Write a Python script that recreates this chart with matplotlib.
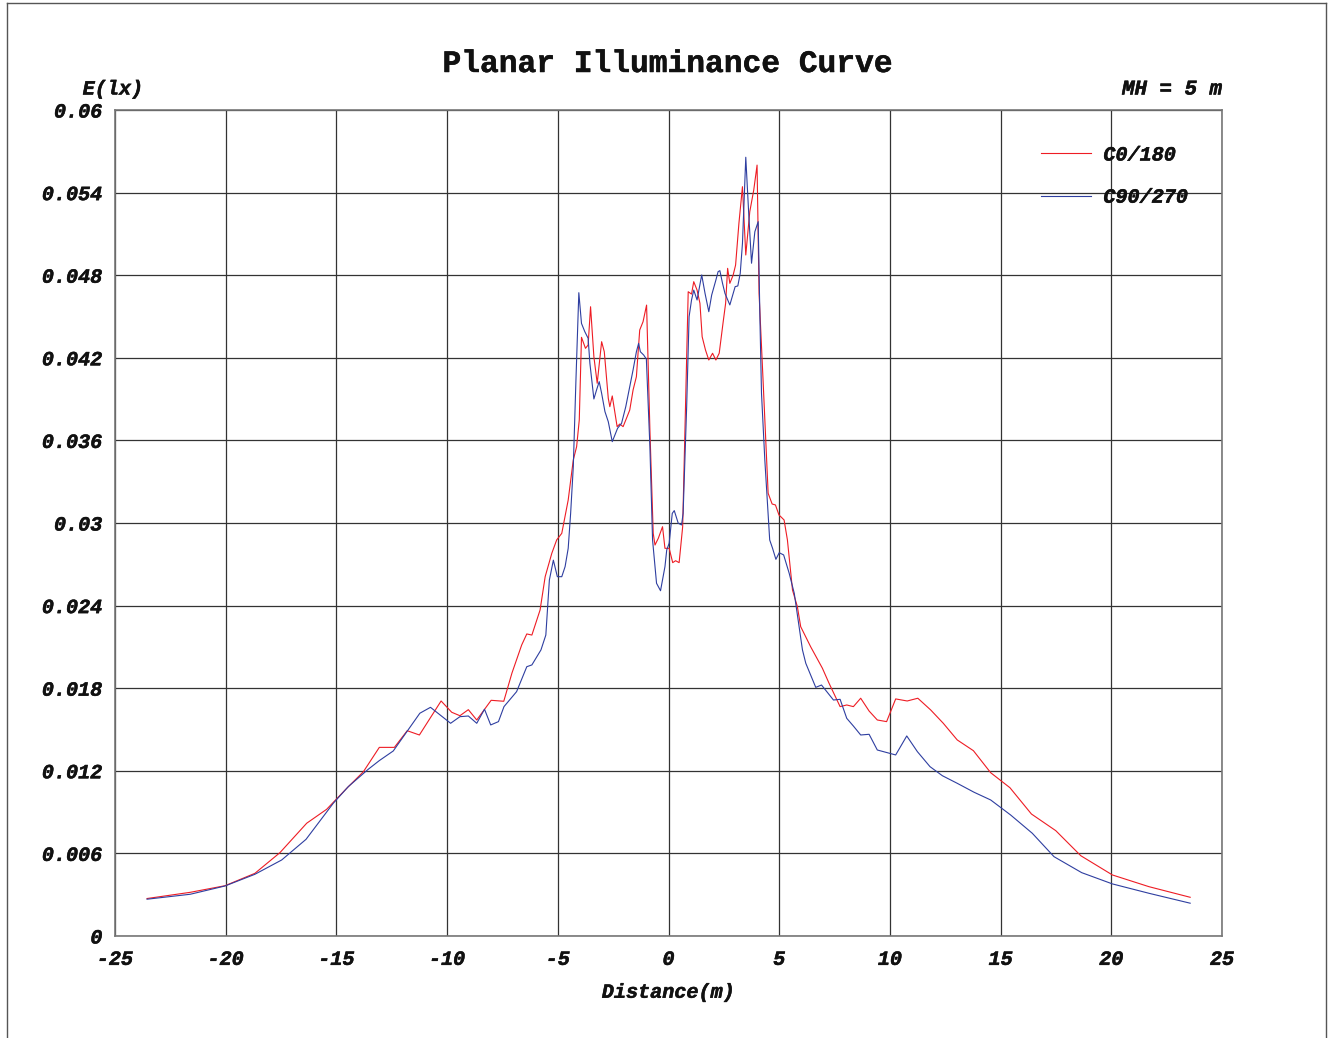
import matplotlib
matplotlib.use("Agg")
import matplotlib.pyplot as plt
import matplotlib.patheffects as pe
import numpy as np

# C0/180 curve (red)
c0_x = [-23.55, -21.6, -20.03, -18.68, -17.55, -16.34, -15.44, -14.53, -13.78, -13.06,
        -12.38, -11.8, -11.25, -10.27, -9.79, -9.42, -9.04, -8.66, -8.01, -7.44,
        -7.07, -6.63, -6.4, -6.17, -5.8, -5.57, -5.27, -5.05, -4.82, -4.53,
        -4.3, -4.15, -4.03, -3.93, -3.75, -3.63, -3.52, -3.37, -3.22, -3.02,
        -2.9, -2.72, -2.65, -2.54, -2.32, -2.2, -2.05, -1.87, -1.75, -1.6,
        -1.45, -1.3, -1.15, -0.99, -0.84, -0.69, -0.61, -0.46, -0.27, -0.16,
        0.03, 0.19, 0.32, 0.48, 0.64, 0.89, 1.04, 1.14, 1.29, 1.42,
        1.52, 1.67, 1.82, 1.99, 2.14, 2.29, 2.47, 2.58, 2.67, 2.77,
        2.92, 3.03, 3.18, 3.34, 3.49, 3.67, 3.85, 4.0, 4.09, 4.27,
        4.5, 4.68, 4.83, 4.99, 5.07, 5.22, 5.37, 5.6, 5.82, 5.97,
        6.42, 6.95, 7.25, 7.75, 8.05, 8.35, 8.68, 9.06, 9.43, 9.85,
        10.26, 10.78, 11.26, 11.84, 12.41, 13.04, 13.77, 14.55, 15.42, 16.39,
        17.49, 18.62, 20.05, 21.7, 23.56]
c0_e = [0.00272, 0.00317, 0.00365, 0.00455, 0.00605, 0.00819, 0.0092, 0.01073, 0.01193, 0.0137,
        0.0137, 0.01491, 0.0146, 0.01707, 0.01625, 0.016, 0.01644, 0.01569, 0.01712, 0.01705,
        0.0191, 0.02114, 0.02194, 0.02186, 0.02368, 0.0261, 0.0278, 0.02877, 0.02925, 0.03167,
        0.03458, 0.03554, 0.03748, 0.04349, 0.04269, 0.04293, 0.04571, 0.04208, 0.04015, 0.04317,
        0.04244, 0.03906, 0.03845, 0.03923, 0.037, 0.03719, 0.037, 0.03772, 0.03821, 0.03966,
        0.04063, 0.04402, 0.04462, 0.04583, 0.03676, 0.02925, 0.0284, 0.02889, 0.02973, 0.02816,
        0.02816, 0.02712, 0.02726, 0.02712, 0.02973, 0.0468, 0.04663, 0.04753, 0.04692, 0.04596,
        0.04353, 0.04257, 0.04184, 0.04233, 0.04184, 0.04233, 0.04462, 0.04596, 0.0485, 0.04741,
        0.04801, 0.04874, 0.05177, 0.05443, 0.04947, 0.05261, 0.05419, 0.056, 0.04668, 0.04039,
        0.03216, 0.03138, 0.03131, 0.03058, 0.03046, 0.03022, 0.02877, 0.02513, 0.02392, 0.02247,
        0.02101, 0.01945, 0.01836, 0.01666, 0.01678, 0.01666, 0.01727, 0.01634, 0.01569, 0.01557,
        0.01722, 0.01707, 0.01727, 0.01642, 0.01545, 0.01424, 0.01346, 0.01186, 0.01077, 0.00886,
        0.00765, 0.00583, 0.00443, 0.00358, 0.00281]

# C90/270 curve (blue)
c90_x = [-23.55, -21.6, -20.03, -18.68, -17.47, -16.37, -15.14, -14.46, -13.56, -13.06,
         -12.43, -11.23, -10.75, -9.84, -9.42, -9.04, -8.66, -8.31, -8.03, -7.68,
         -7.43, -6.86, -6.4, -6.17, -5.76, -5.54, -5.38, -5.2, -5.02, -4.82,
         -4.67, -4.53, -4.42, -4.3, -4.18, -4.05, -3.93, -3.78, -3.63, -3.55,
         -3.37, -3.25, -3.13, -3.02, -2.87, -2.72, -2.54, -2.3, -2.12, -1.93,
         -1.75, -1.6, -1.45, -1.35, -1.27, -1.12, -1.0, -0.84, -0.72, -0.54,
         -0.36, -0.16, -0.08, 0.03, 0.17, 0.26, 0.44, 0.59, 0.66, 0.82,
         0.93, 1.04, 1.14, 1.29, 1.5, 1.65, 1.82, 1.95, 2.14, 2.24,
         2.32, 2.44, 2.55, 2.77, 3.01, 3.13, 3.24, 3.34, 3.49, 3.63,
         3.75, 3.9, 4.05, 4.13, 4.2, 4.35, 4.57, 4.7, 4.85, 5.0,
         5.2, 5.45, 5.68, 5.9, 6.05, 6.2, 6.65, 6.91, 7.45, 7.75,
         8.05, 8.35, 8.68, 9.06, 9.43, 10.26, 10.76, 11.24, 11.81, 12.37,
         13.04, 13.8, 14.55, 15.45, 16.43, 17.41, 18.66, 20.05, 21.7, 23.56]
c90_e = [0.00267, 0.00303, 0.00363, 0.00448, 0.00552, 0.00702, 0.00964, 0.01085, 0.01211, 0.01274,
         0.01344, 0.01618, 0.01661, 0.01545, 0.01593, 0.01598, 0.01545, 0.01647, 0.01533, 0.01557,
         0.01666, 0.01775, 0.01956, 0.01969, 0.02078, 0.02186, 0.02586, 0.0273, 0.0261, 0.0261,
         0.02683, 0.02816, 0.0307, 0.03409, 0.04039, 0.04673, 0.0445, 0.0439, 0.04342, 0.0416,
         0.03901, 0.03966, 0.04027, 0.03942, 0.03809, 0.03736, 0.03591, 0.03688, 0.03724, 0.03845,
         0.0399, 0.04112, 0.04244, 0.04305, 0.04244, 0.0422, 0.04191, 0.03554, 0.02877, 0.02562,
         0.02508, 0.02683, 0.02804, 0.02853, 0.0307, 0.0309, 0.02998, 0.02986, 0.0307, 0.03845,
         0.04499, 0.0462, 0.04692, 0.0462, 0.04802, 0.04668, 0.04535, 0.04656, 0.04765, 0.04826,
         0.04833, 0.04741, 0.04668, 0.04584, 0.04717, 0.04722, 0.04814, 0.05031, 0.05657, 0.05225,
         0.04887, 0.05116, 0.05189, 0.04475, 0.03942, 0.03458, 0.02877, 0.02816, 0.02736, 0.02784,
         0.02768, 0.02635, 0.02489, 0.02247, 0.02078, 0.01981, 0.01806, 0.01823, 0.01714, 0.01719,
         0.01581, 0.01525, 0.0146, 0.01465, 0.01351, 0.01315, 0.01453, 0.01339, 0.0123, 0.01164,
         0.01109, 0.01044, 0.00988, 0.00879, 0.00746, 0.00576, 0.0046, 0.00378, 0.0031, 0.00238]

x_ticks = [-25, -20, -15, -10, -5, 0, 5, 10, 15, 20, 25]
x_labels = ["-25", "-20", "-15", "-10", "-5", "0", "5", "10", "15", "20", "25"]
y_ticks = [0, 0.006, 0.012, 0.018, 0.024, 0.03, 0.036, 0.042, 0.048, 0.054, 0.06]
y_labels = ["0", "0.006", "0.012", "0.018", "0.024", "0.03", "0.036", "0.042", "0.048", "0.054", "0.06"]

RED = "#ee1c24"
BLUE = "#2e3ea0"
FONT = "Liberation Mono"
HEAVY = [pe.withStroke(linewidth=0.35, foreground="#111111")]
bi = dict(fontfamily=FONT, fontweight="bold", fontstyle="italic", color="#111111")

fig = plt.figure(figsize=(13.35, 10.38), dpi=100)
ax = fig.add_axes([0.0861, 0.0983, 0.8293, 0.7957])

ax.plot(c0_x, c0_e, color=RED, lw=0.8, label="C0/180")
ax.plot(c90_x, c90_e, color=BLUE, lw=0.8, label="C90/270")

ax.set_xlim(-25, 25)
ax.set_ylim(0, 0.06)
ax.set_xticks(x_ticks)
ax.set_yticks(y_ticks)
ax.set_xticklabels(x_labels, fontsize=14.5, path_effects=HEAVY, **bi)
ax.set_yticklabels(y_labels, fontsize=14.5, path_effects=HEAVY, **bi)
ax.tick_params(length=0)
ax.tick_params(axis="x", pad=10)
ax.tick_params(axis="y", pad=9)
ax.grid(True, color="#333333", lw=0.9)
ax.set_axisbelow(True)
for s in ax.spines.values():
    s.set_color("#777777")
    s.set_linewidth(1.2)

ax.set_xlabel("Distance(m)", fontsize=14.5, labelpad=10, path_effects=HEAVY, **bi)

fig.text(0.5, 1 - 64 / 1038, "Planar Illuminance Curve", ha="center", va="center",
         fontfamily=FONT, fontweight="bold", fontsize=22.5, color="#111111", path_effects=HEAVY)
fig.text(113 / 1335, 1 - 89 / 1038, "E(lx)", ha="center", va="center",
         fontsize=14.5, path_effects=HEAVY, **bi)
fig.text(1222 / 1335, 1 - 89 / 1038, "MH = 5 m", ha="right", va="center",
         fontsize=15, path_effects=HEAVY, **bi)

leg = ax.legend(loc="upper left", bbox_to_anchor=(0.82, 0.979), frameon=False,
                handlelength=2.5, handletextpad=0.6, labelspacing=1.15,
                prop={"family": FONT, "weight": "bold", "style": "italic", "size": 14.5})
for t in leg.get_texts():
    t.set_path_effects(HEAVY)
    t.set_color("#111111")

# outer frame
fig.add_artist(plt.Line2D([7 / 1335, 7 / 1335], [0, 1 - 3 / 1038], color="#555555", lw=1))
fig.add_artist(plt.Line2D([7 / 1335, 1326 / 1335], [1 - 3 / 1038, 1 - 3 / 1038], color="#555555", lw=1))
fig.add_artist(plt.Line2D([1326 / 1335, 1326 / 1335], [0, 1 - 3 / 1038], color="#555555", lw=1))

fig.savefig("out.png", dpi=100)
